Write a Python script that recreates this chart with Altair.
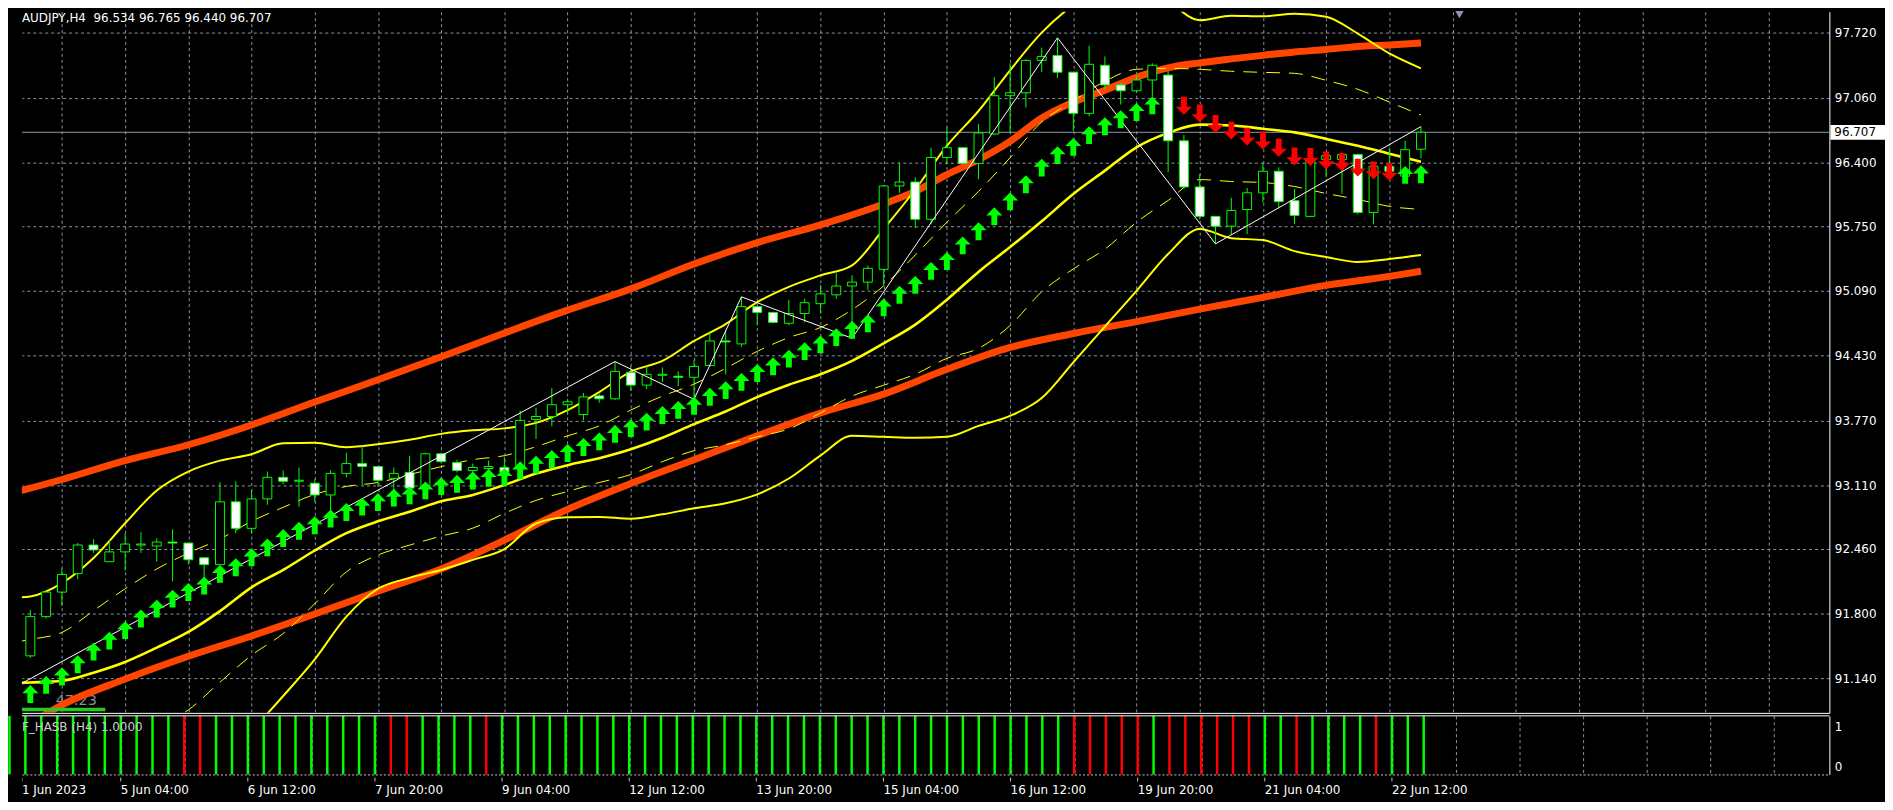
import altair as alt
import pandas as pd

# ---------------- data ----------------
SYMBOL = "AUDJPY"
TIMEFRAME = "H4"
INDICATOR_LABEL = "F_HASB (H4) 1.0000"
SIDE_VALUE = "47.23"

bar_idx = list(range(-1, 89))
opens = [91.06, 91.37, 91.77, 92.02, 92.21, 92.50, 92.33, 92.43, 92.50, 92.49, 92.53,
         92.52, 92.37, 92.30, 92.94, 92.67, 92.97, 93.19, 93.15, 93.13, 93.01,
         93.23, 93.33, 93.30, 93.18, 93.24, 93.10, 93.43, 93.34, 93.26, 93.28,
         93.29, 93.29, 93.78, 93.81, 93.93, 93.83, 94.02, 93.99, 94.26, 94.13,
         94.23, 94.22, 94.21, 94.33, 94.58, 94.55, 94.93, 94.87, 94.76, 94.86,
         94.96, 95.05, 95.14, 95.18, 95.31, 96.16, 96.20, 95.82, 96.45, 96.55,
         96.39, 96.69, 97.08, 97.11, 97.44, 97.49, 97.32, 96.90, 97.39, 97.19,
         97.13, 97.24, 97.29, 96.62, 96.15, 95.85, 95.75, 95.92, 96.09, 96.31,
         96.01, 95.85, 96.43, 96.43, 96.48, 95.89, 96.36, 96.26, 96.534]
highs = [91.40, 91.84, 92.03, 92.26, 92.52, 92.56, 92.55, 92.62, 92.63, 92.57, 92.66,
         92.52, 92.37, 93.14, 93.15, 93.06, 93.25, 93.26, 93.29, 93.17, 93.26,
         93.44, 93.51, 93.30, 93.29, 93.41, 93.44, 93.44, 93.37, 93.33, 93.36,
         93.40, 93.87, 93.90, 94.10, 93.99, 94.05, 94.04, 94.37, 94.32, 94.32,
         94.31, 94.27, 94.39, 94.68, 94.69, 95.03, 94.95, 94.88, 95.00, 95.01,
         95.15, 95.27, 95.25, 95.35, 96.17, 96.40, 96.25, 96.55, 96.76, 96.55,
         96.79, 97.27, 97.41, 97.45, 97.57, 97.67, 97.32, 97.59, 97.48, 97.21,
         97.29, 97.41, 97.33, 96.68, 96.28, 95.85, 96.04, 96.14, 96.40, 96.35,
         96.13, 96.48, 96.49, 96.50, 96.49, 96.37, 96.55, 96.62, 96.765]
lows = [91.05, 91.35, 91.75, 91.88, 92.15, 92.42, 92.33, 92.24, 92.42, 92.33, 92.13,
        92.30, 92.10, 92.30, 92.62, 92.62, 92.91, 93.12, 92.89, 92.94, 92.85,
        93.19, 93.11, 93.09, 92.99, 93.06, 93.06, 93.33, 93.24, 93.16, 93.19,
        93.16, 93.29, 93.58, 93.71, 93.83, 93.77, 93.95, 93.98, 94.07, 94.09,
        94.16, 94.12, 93.985, 94.32, 94.24, 94.52, 94.74, 94.76, 94.74, 94.77,
        94.86, 95.01, 94.608, 95.10, 95.15, 96.09, 95.73, 95.77, 96.38, 96.38,
        96.23, 96.68, 96.70, 96.96, 97.32, 97.26, 96.72, 96.87, 97.14, 96.99,
        97.11, 97.07, 96.30, 96.13, 95.82, 95.57, 95.66, 95.67, 95.99, 95.94,
        95.77, 95.84, 96.25, 96.08, 95.87, 95.77, 96.30, 96.20, 96.44]
closes = [91.37, 91.77, 92.02, 92.20, 92.50, 92.45, 92.43, 92.51, 92.51, 92.53, 92.52,
          92.35, 92.30, 92.94, 92.67, 92.97, 93.19, 93.15, 93.16, 93.01, 93.23,
          93.33, 93.30, 93.16, 93.23, 93.08, 93.43, 93.35, 93.26, 93.29, 93.30,
          93.24, 93.77, 93.81, 93.93, 93.96, 94.01, 93.99, 94.27, 94.13, 94.24,
          94.24, 94.21, 94.32, 94.58, 94.57, 94.93, 94.87, 94.77, 94.86, 94.97,
          95.06, 95.14, 95.18, 95.32, 96.16, 96.20, 95.82, 96.45, 96.55, 96.39,
          96.70, 97.08, 97.11, 97.44, 97.48, 97.32, 96.90, 97.40, 97.19, 97.13,
          97.24, 97.39, 96.62, 96.15, 95.85, 95.75, 95.91, 96.09, 96.31, 96.00,
          95.86, 96.43, 96.47, 96.48, 95.89, 96.36, 96.31, 96.53, 96.707]

# arrow signals (tip price)
up_arrow_idx = list(range(0, 72)) + [87, 88]
up_arrow_price = [91.072, 91.166, 91.251, 91.376, 91.504, 91.616, 91.723, 91.842, 91.943, 92.044,
                  92.112, 92.179, 92.297, 92.365, 92.466, 92.567, 92.662, 92.736, 92.793, 92.861,
                  92.928, 92.983, 93.029, 93.074, 93.097, 93.148, 93.191, 93.215, 93.249, 93.276,
                  93.286, 93.353, 93.411, 93.468, 93.529, 93.590, 93.647, 93.725, 93.782, 93.849,
                  93.917, 93.968, 94.011, 94.102, 94.170, 94.254, 94.345, 94.413, 94.491, 94.568,
                  94.636, 94.710, 94.785, 94.851, 95.013, 95.142, 95.243, 95.385, 95.486, 95.645,
                  95.790, 95.942, 96.094, 96.269, 96.438, 96.566, 96.650, 96.769, 96.860, 96.931,
                  97.005, 97.072, 96.364, 96.370]
down_arrow_idx = list(range(73, 87))
down_arrow_price = [96.886, 96.809, 96.701, 96.633, 96.572, 96.532, 96.458, 96.370, 96.364,
                    96.329, 96.313, 96.256, 96.228, 96.212]

# channel lines (sampled every 2 bars)
band_idx = [-1] + list(range(0, 89, 2))
band_upper = [91.963, 91.976, 92.112, 92.368, 92.722, 93.056, 93.249, 93.360, 93.426, 93.537,
              93.542, 93.497, 93.527, 93.573, 93.633, 93.669, 93.689, 93.745, 93.876, 94.059,
              94.268, 94.377, 94.580, 94.752, 94.975, 95.132, 95.248, 95.351, 95.723, 96.124,
              96.569, 96.924, 97.339, 97.723, 98.007, 98.219, 98.270, 98.047, 97.850, 97.896,
              97.890, 97.916, 97.885, 97.713, 97.511, 97.359]
band_mid = [91.092, 91.099, 91.116, 91.199, 91.308, 91.454, 91.614, 91.826, 92.069, 92.246,
            92.444, 92.621, 92.742, 92.839, 92.945, 93.011, 93.112, 93.228, 93.314, 93.385,
            93.476, 93.593, 93.732, 93.861, 94.008, 94.134, 94.241, 94.377, 94.555, 94.747,
            95.000, 95.284, 95.537, 95.800, 96.078, 96.316, 96.554, 96.701, 96.785, 96.777,
            96.743, 96.706, 96.640, 96.569, 96.488, 96.407]
band_lower = [89.260, 89.290, 89.391, 89.533, 89.695, 89.837, 90.019, 90.272, 90.606, 90.961,
              91.335, 91.770, 92.054, 92.165, 92.246, 92.348, 92.459, 92.719, 92.783, 92.786,
              92.768, 92.813, 92.874, 92.925, 93.016, 93.178, 93.411, 93.613, 93.603, 93.593,
              93.603, 93.714, 93.816, 93.998, 94.362, 94.727, 95.091, 95.466, 95.722, 95.628,
              95.608, 95.496, 95.435, 95.385, 95.415, 95.456]
band_q1 = [91.507, 91.538, 91.609, 91.831, 92.054, 92.256, 92.418, 92.560, 92.742, 92.884,
           93.016, 93.097, 93.137, 93.218, 93.299, 93.370, 93.411, 93.502, 93.613, 93.714,
           93.876, 94.018, 94.140, 94.301, 94.474, 94.615, 94.717, 94.899, 95.142, 95.456,
           95.790, 96.104, 96.448, 96.812, 97.025, 97.227, 97.349, 97.359, 97.349, 97.329,
           97.318, 97.308, 97.237, 97.146, 97.015, 96.883]
band_q3 = [90.171, 90.201, 90.252, 90.363, 90.505, 90.647, 90.819, 91.102, 91.376, 91.598,
           91.902, 92.226, 92.398, 92.499, 92.591, 92.672, 92.823, 92.955, 93.046, 93.137,
           93.218, 93.350, 93.461, 93.522, 93.603, 93.684, 93.846, 94.018, 94.129, 94.241,
           94.403, 94.504, 94.737, 95.081, 95.314, 95.516, 95.790, 96.012, 96.225, 96.205,
           96.195, 96.154, 96.083, 96.023, 95.952, 95.921]

# long-period envelope (orange)
env_up_idx = [-1, 2, 6, 10, 14, 18, 22, 26, 30, 34, 38, 42, 46, 50, 54, 56, 58, 60, 62, 64,
              66, 68, 70, 72, 74, 76, 78, 80, 82, 84, 86, 88]
env_up = [93.036, 93.168, 93.360, 93.522, 93.724, 93.957, 94.185, 94.418, 94.661, 94.894,
          95.111, 95.364, 95.582, 95.764, 95.977, 96.104, 96.276, 96.428, 96.615, 96.853,
          97.015, 97.136, 97.268, 97.364, 97.415, 97.455, 97.491, 97.526, 97.551, 97.582,
          97.597, 97.617]
env_dn_idx = [-1, 2, 6, 10, 14, 18, 22, 26, 30, 34, 38, 42, 46, 50, 54, 58, 62, 66, 70, 74,
              78, 82, 86, 88]
env_dn = [90.576, 90.869, 91.133, 91.366, 91.573, 91.796, 92.029, 92.256, 92.550, 92.864,
          93.127, 93.370, 93.613, 93.846, 94.038, 94.291, 94.514, 94.656, 94.777, 94.904,
          95.025, 95.147, 95.238, 95.291]

# zigzag pivots
zz_idx = [-1, 37, 42, 45, 52, 65, 75, 88]
zz_price = [91.05, 94.37, 93.985, 95.03, 94.608, 97.67, 95.57, 96.765]

# lower indicator: 1 = up (green), 0 = down (red)
has_dir = [1, 1, 1, 1, 1, 1, 1, 1, 1, 1, 1,
           0, 0, 1, 1, 1, 1, 1, 1, 1, 1,
           1, 1, 1, 0, 0, 1, 1, 1, 1, 0,
           1, 1, 1, 1, 1, 1, 1, 1, 1, 1,
           1, 1, 1, 1, 1, 1, 1, 1, 1, 1,
           1, 1, 1, 1, 1, 1, 1, 1, 1, 1,
           1, 1, 1, 1, 1, 1, 0, 0, 0, 0,
           0, 1, 0, 0, 0, 0, 0, 0, 1, 1,
           0, 1, 1, 1, 1, 0, 1, 1, 1]
has_value = 1.0

price_ticks = [91.14, 91.80, 92.46, 93.11, 93.77, 94.43, 95.09, 95.75, 96.40, 97.06, 97.72]
time_label_idx = [-2, 6, 14, 22, 30, 38, 46, 54, 62, 70, 78, 86]
time_label_text = ["1 Jun 2023", "5 Jun 04:00", "6 Jun 12:00", "7 Jun 20:00", "9 Jun 04:00",
                   "12 Jun 12:00", "13 Jun 20:00", "15 Jun 04:00", "16 Jun 12:00",
                   "19 Jun 20:00", "21 Jun 04:00", "22 Jun 12:00"]
grid_idx = list(range(2, 111, 4))

# ---------------- styling ----------------
GREEN = "#00ff00"
RED = "#ff0000"
YELLOW = "#ffff00"
ORANGE = "#ff4500"
GRID = "#8a94a6"
PRICE_LINE = "#8c98aa"
FONT = "DejaVu Sans"

W, H = 1820, 706
X_DOM = [-0.21875, 113.53125]
Y_DOM = [90.789, 97.936]
xs = alt.Scale(domain=X_DOM, nice=False, zero=False)
ys = alt.Scale(domain=Y_DOM, nice=False, zero=False)

X_AXIS = alt.Axis(values=grid_idx, grid=True, gridColor=GRID, gridDash=[3, 3], gridWidth=1,
                  labels=False, ticks=False, domain=True, domainColor="white", domainWidth=1,
                  title=None, orient="bottom")
Y_AXIS = alt.Axis(orient="right", values=price_ticks, format=".3f", grid=True, gridColor=GRID,
                  gridDash=[3, 3], gridWidth=1, labelColor="white", labelFont=FONT,
                  labelFontSize=12, ticks=False, domain=True, domainColor="white",
                  domainWidth=1, title=None, labelPadding=5)


def X(field):
    return alt.X(field, type="quantitative", scale=xs, axis=X_AXIS)


def Y(field):
    return alt.Y(field, type="quantitative", scale=ys, axis=Y_AXIS)


def line_layer(idx, vals, color, width, dash=None, interp="monotone"):
    df = pd.DataFrame({"idx": idx, "v": vals})
    kw = dict(color=color, strokeWidth=width, clip=True, interpolate=interp,
              strokeJoin="round")
    if dash:
        kw["strokeDash"] = dash
    return alt.Chart(df).mark_line(**kw).encode(x=X("idx"), y=Y("v"))


candles = pd.DataFrame({"idx": bar_idx, "open": opens, "high": highs,
                        "low": lows, "close": closes})
last = candles.iloc[-1]
title_text = f"{SYMBOL},{TIMEFRAME}\u00a0 {last['open']:.3f} {last['high']:.3f} {last['low']:.3f} {last['close']:.3f}"

price_df = pd.DataFrame({"p": [last["close"]], "label": [f"{last['close']:.3f}"]})

price_line = alt.Chart(price_df).mark_rule(color=PRICE_LINE, strokeWidth=1).encode(y=Y("p"))

side_text = alt.Chart(pd.DataFrame({"t": [SIDE_VALUE]})).mark_text(
    align="left", baseline="alphabetic", color="#8a8f99", font=FONT, fontSize=14.5
).encode(x=alt.value(34), y=alt.value(698), text="t:N")
side_bar = alt.Chart(pd.DataFrame({"t": [SIDE_VALUE]})).mark_rule(
    color="#22cc22", strokeWidth=3.5).encode(x=alt.value(0), x2=alt.value(84), y=alt.value(702.5))

orange_up = line_layer(env_up_idx, env_up, ORANGE, 7)
orange_dn = line_layer(env_dn_idx, env_dn, ORANGE, 7)
y_up = line_layer(band_idx, band_upper, YELLOW, 2)
y_mid = line_layer(band_idx, band_mid, YELLOW, 2.6)
y_lo = line_layer(band_idx, band_lower, YELLOW, 2)
y_q1 = line_layer(band_idx, band_q1, YELLOW, 1, dash=[14, 9])
y_q3 = line_layer(band_idx, band_q3, YELLOW, 1, dash=[14, 9])
zigzag = line_layer(zz_idx, zz_price, "white", 1, interp="linear")

wicks = alt.Chart(candles).mark_rule(color=GREEN, strokeWidth=1, clip=True).encode(
    x=X("idx"), y=Y("low"), y2="high")
bodies = alt.Chart(candles).mark_bar(width=9, stroke=GREEN, strokeWidth=1, clip=True).encode(
    x=X("idx"), y=Y("open"), y2="close",
    fill=alt.condition("datum.close >= datum.open", alt.value("black"), alt.value("white")))

UP_PATH = "M0,-1L0.9,-0.1L0.33,-0.1L0.33,1L-0.33,1L-0.33,-0.1L-0.9,-0.1Z"
DN_PATH = "M0,1L0.9,0.1L0.33,0.1L0.33,-1L-0.33,-1L-0.33,0.1L-0.9,0.1Z"
up_arrows = alt.Chart(pd.DataFrame({"idx": up_arrow_idx, "p": up_arrow_price})).mark_point(
    shape=UP_PATH, filled=True, size=324, color=GREEN, opacity=1, strokeWidth=0,
    yOffset=9, clip=True).encode(x=X("idx"), y=Y("p"))
dn_arrows = alt.Chart(pd.DataFrame({"idx": down_arrow_idx, "p": down_arrow_price})).mark_point(
    shape=DN_PATH, filled=True, size=324, color=RED, opacity=1, strokeWidth=0,
    yOffset=-9, clip=True).encode(x=X("idx"), y=Y("p"))

title = alt.Chart(pd.DataFrame({"t": [title_text]})).mark_text(
    align="left", baseline="top", color="white", font=FONT, fontSize=12
).encode(x=alt.value(0), y=alt.value(1), text="t:N")

shift_marker = alt.Chart(pd.DataFrame({"t": [0]})).mark_point(
    shape="triangle-down", filled=True, size=70, color="#8c98aa", opacity=1
).encode(x=alt.value(1447.5), y=alt.value(3))

BOX_PATH = "M-1,-0.27L1,-0.27L1,0.27L-1,0.27Z"
price_box = alt.Chart(price_df).mark_point(
    shape=BOX_PATH, filled=True, size=3025, color="white", opacity=1, strokeWidth=0
).encode(x=alt.value(1848.5), y=Y("p"))
price_box_text = alt.Chart(price_df).mark_text(
    align="left", baseline="middle", color="black", font=FONT, fontSize=12
).encode(x=alt.value(1825), y=Y("p"), text="label:N")

main = alt.layer(
    price_line, side_text, orange_up, orange_dn, y_q1, y_q3, y_up, y_mid, y_lo,
    wicks, bodies, zigzag, up_arrows, dn_arrows, side_bar, title, shift_marker,
    price_box, price_box_text
).properties(width=W, height=H)

# ---------------- indicator panel ----------------
hist = pd.DataFrame({"idx": bar_idx,
                     "dir": ["up" if d else "down" for d in has_dir],
                     "val": [has_value] * len(bar_idx)})
IX_AXIS = alt.Axis(values=grid_idx, grid=True, gridColor=GRID, gridDash=[3, 3], gridWidth=1,
                   labels=False, ticks=False, domain=True, domainColor="#c8c8c8",
                   domainDash=[2, 2], title=None, orient="bottom")
IY_AXIS = alt.Axis(orient="right", values=[0, 1], format="d", grid=False, labelColor="white",
                   labelFont=FONT, labelFontSize=12, ticks=False, domain=True,
                   domainColor="white", title=None, labelPadding=5,
                   labelOffset={"condition": {"test": "datum.value == 1", "value": 11},
                                "value": -8})
iys = alt.Scale(domain=[0, 1.0], nice=False, zero=False)

hist_bars = alt.Chart(hist).mark_rule(strokeWidth=2.5).encode(
    x=alt.X("idx:Q", scale=xs, axis=IX_AXIS),
    y=alt.Y("val:Q", scale=iys, axis=IY_AXIS),
    y2=alt.datum(0),
    color=alt.Color("dir:N", scale=alt.Scale(domain=["up", "down"], range=[GREEN, RED]),
                    legend=None))
top_border = alt.Chart(pd.DataFrame({"t": [0]})).mark_rule(color="white", strokeWidth=1).encode(
    x=alt.value(0), x2=alt.value(W), y=alt.value(0))
ind_name = alt.Chart(pd.DataFrame({"t": [INDICATOR_LABEL]})).mark_text(
    align="left", baseline="top", color="#d0d0d0", font=FONT, fontSize=12
).encode(x=alt.value(0), y=alt.value(6), text="t:N")

indicator = alt.layer(hist_bars, top_border, ind_name).properties(width=W, height=59)

# ---------------- time labels strip ----------------
# the first (partial-bar) date label is clamped to the left edge so it stays readable
xs_clamp = alt.Scale(domain=X_DOM, nice=False, zero=False, clamp=True)
tl = pd.DataFrame({"idx": time_label_idx, "text": time_label_text})
strip_ticks = alt.Chart(tl).mark_rule(color="#c8c8c8", clip=True).encode(
    x=alt.X("idx:Q", scale=xs_clamp, axis=None), y=alt.value(0), y2=alt.value(4))
strip_text = alt.Chart(tl).mark_text(
    align="left", baseline="alphabetic", color="white", font=FONT, fontSize=12
).encode(x=alt.X("idx:Q", scale=xs_clamp, axis=None), y=alt.value(17), text="text:N")
strip = alt.layer(strip_ticks, strip_text).properties(width=W, height=22)

chart = alt.vconcat(main, indicator, strip, spacing=1).properties(
    background="#000000",
    padding={"left": 0, "top": 0, "right": 0, "bottom": 0}
).configure_view(strokeWidth=0)

chart.save("out.html", embed_options={"renderer": "svg", "actions": False})
